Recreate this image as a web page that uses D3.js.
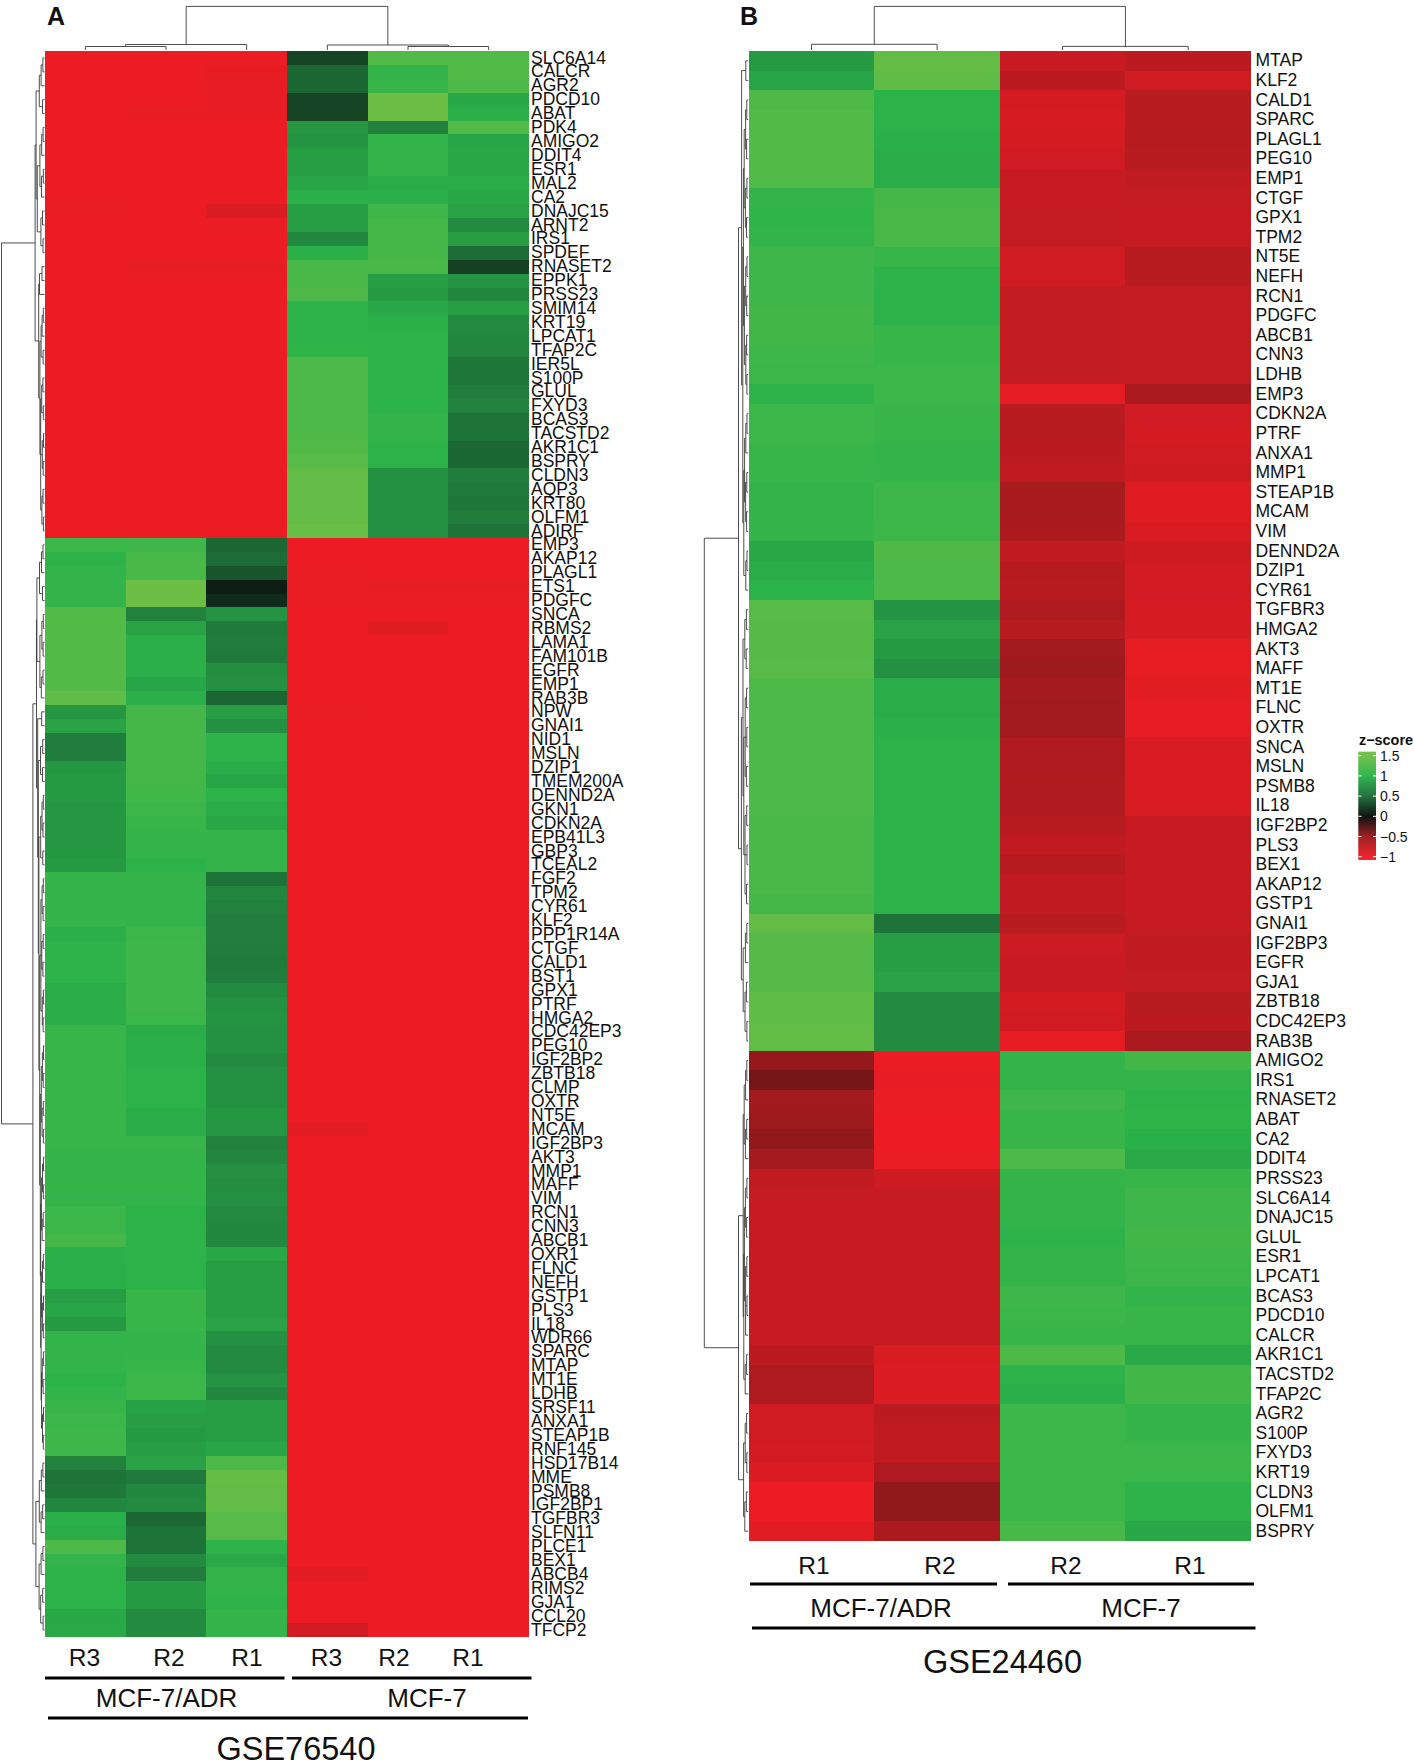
<!DOCTYPE html>
<html>
<head>
<meta charset="utf-8">
<script src="https://cdnjs.cloudflare.com/ajax/libs/d3/7.8.5/d3.min.js"></script>
<style>
  html, body { margin: 0; padding: 0; background: #fff; }
  svg { display: block; }
  text { font-family: "Liberation Sans", Arial, sans-serif; fill: #111; }
</style>
</head>
<body>
<svg id="chart" width="1414" height="1760"></svg>
<script>
// ── Data ───────────────────────────────────────────────────────────────────

const aColumns = ['R3', 'R2', 'R1', 'R3 ', 'R2 ', 'R1 '];
const bColumns = ['R1', 'R2', 'R2 ', 'R1 '];

const aTopGenes = ['SLC6A14','CALCR','AGR2','PDCD10','ABAT','PDK4','AMIGO2','DDIT4','ESR1','MAL2','CA2','DNAJC15','ARNT2','IRS1','SPDEF','RNASET2','EPPK1','PRSS23','SMIM14','KRT19','LPCAT1','TFAP2C','IER5L','S100P','GLUL','FXYD3','BCAS3','TACSTD2','AKR1C1','BSPRY','CLDN3','AQP3','KRT80','OLFM1','ADIRF'];
const aTopValues = [
  [-1,-1,-0.99,0.3,1.3,1.3],[-1,-1,-0.96,0.48,1.05,1.3],[-1,-1,-0.97,0.48,1.1,1.25],[-1,-1,-0.97,0.3,1.5,0.92],[-1,-0.97,-0.97,0.3,1.5,0.97],
  [-1,-1,-1,0.8,0.65,1.3],[-1,-1,-1,0.78,1.05,0.9],[-1,-1,-1,0.85,1.05,0.92],[-1,-1,-1,0.85,1.05,0.92],[-1,-1,-1,0.9,0.95,0.95],
  [-1,-1,-1,0.97,0.97,0.92],[-0.98,-1,-0.9,0.85,1.15,0.88],[-1,-1,-0.99,0.85,1.2,0.72],[-1,-1,-1,0.7,1.2,0.85],[-1,-1,-1,0.97,1.2,0.5],
  [-1,-0.97,-0.97,1.22,1.22,0.28],[-1,-1,-1,1.22,0.85,0.78],[-1,-1,-1,1.25,0.82,0.7],[-1,-1,-1,1.02,0.92,0.85],[-1,-1,-1,1.02,0.98,0.72],
  [-1,-1,-1,1.02,1,0.7],[-1,-1,-1,1.03,1,0.68],[-1,-1,-1,1.25,1,0.58],[-1,-1,-1,1.25,1.02,0.58],[-1,-1,-1,1.25,1,0.62],
  [-1,-1,-1,1.25,1,0.66],[-1,-1,-1,1.25,1.05,0.55],[-1,-1,-1,1.28,1.05,0.55],[-1,-1,-1,1.3,1.02,0.48],[-1,-1,-1,1.35,1,0.48],
  [-1,-1,-1,1.42,0.75,0.62],[-1,-1,-1,1.42,0.75,0.6],[-1,-1,-1,1.42,0.75,0.58],[-1,-1,-1,1.42,0.75,0.62],[-1,-1,-1,1.48,0.75,0.55]
];

const aLowGenes = ['EMP3','AKAP12','PLAGL1','ETS1','PDGFC','SNCA','RBMS2','LAMA1','FAM101B','EGFR','EMP1','RAB3B','NPW','GNAI1','NID1','MSLN','DZIP1','TMEM200A','DENND2A','GKN1','CDKN2A','EPB41L3','GBP3','TCEAL2','FGF2','TPM2','CYR61','KLF2','PPP1R14A','CTGF','CALD1','BST1','GPX1','PTRF','HMGA2','CDC42EP3','PEG10','IGF2BP2','ZBTB18','CLMP','OXTR','NT5E','MCAM','IGF2BP3','AKT3','MMP1','MAFF','VIM','RCN1','CNN3','ABCB1','OXR1','FLNC','NEFH','GSTP1','PLS3','IL18','WDR66','SPARC','MTAP','MT1E','LDHB','SRSF11','ANXA1','STEAP1B','RNF145','HSD17B14','MME','PSMB8','IGF2BP1','TGFBR3','SLFN11','PLCE1','BEX1','ABCB4','RIMS2','GJA1','CCL20','TFCP2'];
const aLowValues = [
  [1.12,1.15,0.48,-1,-1,-1],[1.02,1.22,0.5,-1,-1,-1],[1.05,1.22,0.38,-0.98,-1,-1],[1.05,1.5,0.1,-0.98,-0.97,-0.97],[1.05,1.5,0.17,-0.98,-0.98,-0.98],
  [1.3,0.65,0.78,-1,-1,-1],[1.3,0.88,0.6,-1,-0.92,-1],[1.3,0.97,0.62,-1,-1,-1],[1.3,0.97,0.6,-1,-1,-1],[1.3,0.97,0.73,-1,-1,-1],
  [1.3,0.9,0.75,-1,-1,-1],[1.4,0.97,0.47,-0.99,-1,-1],[0.8,1.2,0.85,-0.98,-1,-1],[0.88,1.2,0.75,-1,-1,-1],[0.62,1.2,1.02,-1,-1,-1],
  [0.62,1.2,1.02,-1,-1,-1],[0.8,1.2,0.95,-1,-1,-1],[0.82,1.2,0.9,-1,-1,-1],[0.82,1.17,1,-1,-1,-1],[0.8,1.13,0.95,-1,-1,-1],
  [0.8,1.1,0.92,-1,-1,-1],[0.8,1.08,1.05,-1,-1,-1],[0.8,1.05,1.05,-1,-1,-1],[0.82,1,1.05,-1,-1,-1],[1.08,1.08,0.55,-1,-1,-1],
  [1.08,1.05,0.68,-1,-1,-1],[1.08,1.05,0.65,-1,-1,-1],[1.08,1.05,0.63,-1,-1,-1],[0.97,1.13,0.63,-1,-1,-1],[1.02,1.15,0.62,-1,-1,-1],
  [1.02,1.15,0.6,-1,-1,-1],[1.02,1.15,0.62,-1,-1,-1],[0.95,1.15,0.72,-1,-1,-1],[0.95,1.15,0.75,-1,-1,-1],[0.95,1.12,0.78,-1,-1,-1],
  [1.1,0.95,0.75,-1,-1,-1],[1.1,0.97,0.75,-1,-1,-1],[1.1,0.98,0.72,-1,-1,-1],[1.1,1,0.75,-1,-1,-1],[1.1,1,0.75,-1,-1,-1],
  [1.1,1,0.75,-1,-1,-1],[1.1,0.95,0.8,-1,-1,-1],[1.1,0.95,0.8,-0.94,-1,-1],[1.1,1.1,0.65,-1,-1,-1],[1.08,1.08,0.68,-1,-1,-1],
  [1.08,1.06,0.75,-1,-1,-1],[1.06,1.06,0.73,-1,-1,-1],[1.05,1.05,0.75,-1,-1,-1],[1.12,1,0.72,-1,-1,-1],[1.12,1,0.7,-1,-1,-1],
  [1.2,1.02,0.7,-1,-1,-1],[0.98,1.02,0.92,-1,-1,-1],[0.97,1,0.85,-1,-1,-1],[0.97,1,0.85,-1,-1,-1],[0.85,1.1,0.85,-1,-1,-1],
  [0.9,1.1,0.85,-1,-1,-1],[0.82,1.1,0.88,-1,-1,-1],[1.05,1.08,0.75,-1,-1,-1],[1.05,1.08,0.72,-1,-1,-1],[1.05,1.1,0.72,-1,-1,-1],
  [1,1.12,0.78,-1,-1,-1],[1.05,1.12,0.7,-1,-1,-1],[1.1,0.87,0.85,-1,-1,-1],[1.12,0.85,0.85,-1,-1,-1],[1.15,0.82,0.85,-1,-1,-1],
  [1.15,0.85,0.9,-1,-1,-1],[0.65,0.88,1.25,-1,-1,-1],[0.55,0.6,1.45,-1,-1,-1],[0.58,0.7,1.42,-1,-1,-1],[0.7,0.72,1.42,-1,-1,-1],
  [0.98,0.48,1.35,-1,-1,-1],[0.95,0.55,1.35,-1,-1,-1],[1.25,0.55,1.02,-1,-1,-1],[1.05,0.72,0.92,-1,-1,-1],[1.02,0.62,1.05,-0.94,-1,-1],
  [1,0.82,1.05,-1,-1,-1],[1,0.82,1.02,-1,-1,-1],[0.92,0.72,1.08,-1,-1,-1],[0.93,0.72,1.08,-0.82,-1,-1]
];

const bTopGenes = ['MTAP','KLF2','CALD1','SPARC','PLAGL1','PEG10','EMP1','CTGF','GPX1','TPM2','NT5E','NEFH','RCN1','PDGFC','ABCB1','CNN3','LDHB','EMP3','CDKN2A','PTRF','ANXA1','MMP1','STEAP1B','MCAM','VIM','DENND2A','DZIP1','CYR61','TGFBR3','HMGA2','AKT3','MAFF','MT1E','FLNC','OXTR','SNCA','MSLN','PSMB8','IL18','IGF2BP2','PLS3','BEX1','AKAP12','GSTP1','GNAI1','IGF2BP3','EGFR','GJA1','ZBTB18','CDC42EP3','RAB3B'];
const bTopValues = [
  [0.82,1.42,-0.78,-0.7],[0.9,1.4,-0.7,-0.82],[1.28,1,-0.85,-0.68],[1.3,1,-0.87,-0.68],[1.3,0.98,-0.85,-0.66],
  [1.3,0.95,-0.83,-0.68],[1.3,0.95,-0.76,-0.72],[1.05,1.2,-0.76,-0.75],[1.03,1.22,-0.75,-0.76],[1.05,1.22,-0.75,-0.76],
  [1.15,1.1,-0.82,-0.68],[1.15,1.02,-0.82,-0.68],[1.15,1,-0.74,-0.75],[1.18,1,-0.74,-0.75],[1.18,1.1,-0.74,-0.75],
  [1.15,1.1,-0.74,-0.75],[1.12,1.12,-0.74,-0.75],[1.02,1.12,-0.95,-0.6],[1.12,1.1,-0.68,-0.83],[1.12,1.1,-0.68,-0.85],
  [1.1,1.05,-0.7,-0.82],[1.1,1.08,-0.72,-0.8],[1.05,1.13,-0.58,-0.92],[1.05,1.13,-0.58,-0.92],[1.08,1.13,-0.6,-0.88],
  [0.92,1.28,-0.72,-0.8],[0.95,1.25,-0.66,-0.84],[1,1.25,-0.68,-0.84],[1.35,0.78,-0.62,-0.86],[1.32,0.88,-0.66,-0.86],
  [1.32,0.82,-0.55,-0.96],[1.35,0.75,-0.52,-0.96],[1.25,0.95,-0.56,-0.93],[1.25,0.96,-0.54,-0.95],[1.25,0.98,-0.54,-0.95],
  [1.25,1,-0.62,-0.88],[1.25,1,-0.62,-0.88],[1.25,1,-0.63,-0.88],[1.25,1,-0.64,-0.88],[1.22,1,-0.68,-0.78],
  [1.22,1,-0.72,-0.78],[1.22,1,-0.66,-0.78],[1.22,1,-0.72,-0.78],[1.2,1,-0.72,-0.77],[1.42,0.55,-0.68,-0.76],
  [1.32,0.85,-0.8,-0.72],[1.32,0.85,-0.78,-0.72],[1.32,0.88,-0.78,-0.74],[1.4,0.72,-0.85,-0.68],[1.4,0.72,-0.82,-0.7],
  [1.42,0.72,-0.95,-0.6]
];

const bLowGenes = ['AMIGO2','IRS1','RNASET2','ABAT','CA2','DDIT4','PRSS23','SLC6A14','DNAJC15','GLUL','ESR1','LPCAT1','BCAS3','PDCD10','CALCR','AKR1C1','TACSTD2','TFAP2C','AGR2','S100P','FXYD3','KRT19','CLDN3','OLFM1','BSPRY'];
const bLowValues = [
  [-0.48,-1,1.05,1.18],[-0.38,-0.97,1.05,1.05],[-0.55,-0.98,1.15,1.02],[-0.52,-1,1.1,1.03],[-0.47,-1,1.1,0.98],
  [-0.56,-0.98,1.25,0.93],[-0.72,-0.8,1.08,1.1],[-0.76,-0.76,1.05,1.15],[-0.76,-0.76,1.05,1.15],[-0.76,-0.76,1.02,1.18],
  [-0.76,-0.76,1.05,1.15],[-0.76,-0.76,1.05,1.13],[-0.76,-0.76,1.15,1.05],[-0.76,-0.76,1.12,1.1],[-0.76,-0.76,1.1,1.1],
  [-0.7,-0.88,1.25,0.93],[-0.62,-0.9,1.02,1.18],[-0.62,-0.9,0.97,1.18],[-0.83,-0.7,1.13,1.05],[-0.83,-0.72,1.12,1.08],
  [-0.84,-0.72,1.12,1.12],[-0.9,-0.62,1.12,1.12],[-1,-0.47,1.12,1.02],[-1,-0.47,1.12,1.02],[-0.93,-0.6,1.22,0.92]
];

// Dendrograms: [height, ...children]; a bare number child = that many leaves
const aColTree = [43.6, [5.5, [3.5, 2], 1], [5, 1, [3.5, 2]]];
const bColTree = [43.6, [5.7, 2], [3.6, 2]];

const aRowTreeTop = [9.4,
  [8.4,
    [5.2, [3.4, [1.6, 2], 1], [2, 2]],
    [7.2,
      [4.6, [2.8, [1.4, 2], 1], [3, [1.2, 2], 1]],
      [3.6, [2, 2], [1.5, 2]]]],
  [5.8,
    [5, [2.5, 2], 1],
    [4.6,
      [3.4, [2.4, [1.2, 2], 1], [1.4, 2]],
      [3.8, [2.8, [1.6, 2], [1.2, 2]], [2.2, [1, 2], [1.3, 2]], [2.6, [1.5, 2], [1.1, 2]]]]]
];
const aRowTreeLow = [11.6,
  [8,
    [7.6,
      [5, [3, [1.5, 2], 1], [2, 2]],
      [4.6, [2.6, [1.2, 2], [1.4, 2]], [3.2, [1.5, 2], 1]]],
    [6.8,
      [2.8, 2],
      [6.2,
        [4, [1.8, 2], [2, 2]],
        [5.6,
          [3.8, [2.5, [1.2, 2], [1.5, 2]], [1.7, 2]],
          [4.8,
            [3.6, [2.4, [1.2, 2], [1.4, 2]], [2.7, [1.3, 2], [1.6, 2]], [2.2, [1.1, 2], [1.4, 2]]],
            [4.2,
              [3.2, [2.1, [1, 2], [1.3, 2]], [2.4, [1.2, 2], [1.1, 2]]],
              [3.8,
                [3.1, [2, [1, 2], [1.2, 2]], [2.3, [1.3, 2], 1]],
                [3.4,
                  [2.9, [2, [1.1, 2], 1], [1.9, [1, 2], [1.2, 2]]],
                  [3, [2.2, [1.1, 2], [1.4, 2]], [2, [1, 2], [1.2, 2]]]]]]]]]]],
  [8.6,
    [5.2, [3.2, [1.6, 2], 1], [3.4, [1.8, 2], 1]],
    [5.4, [3.4, [1.6, 2], 1], [3.8, [1.8, 2], [1.4, 2]]]]
];
const aRowTree = [43, aRowTreeTop, aRowTreeLow];

const bRowTreeTop = [9.7,
  [6.6,
    [2.4, 2],
    [5.4,
      [4.8,
        [4, [2.6, [1.4, 2], [1.6, 2]], [2.8, [1.3, 2], [1.7, 2]]],
        [3.8, [2.5, [1.2, 2], [1.5, 2]], [2.4, [1.6, 2], [1.3, 2]]]],
      [4.4,
        [3.6, [2.4, [1.2, 2], 1], [2.6, [1.4, 2], [1.6, 2]]],
        [2.4, [1.2, 2], 1]]]],
  [6.8,
    [5.2,
      [3.4, [1.8, 2], [2, 2]],
      [4.4, [3, [1.6, 2], [1.4, 2], [1.8, 2]], [3.2, [1.5, 2], [1.2, 2], [1.7, 2]]]],
    [5, [2.8, [1.4, 2], 1], [3.2, [1.8, 2], [1.3, 2]]]]
];
const bRowTreeLow = [9.7,
  [5,
    [4, [2.6, [1.4, 2], 1], [2.8, [1.5, 2], 1]],
    [4.4,
      [3.8, [2.8, [1.3, 2], [1.6, 2]], [2.6, [1.4, 2], [1.2, 2], 1]],
      [3, [1.6, 2], 1]]],
  [4.6, [3, [1.6, 2], [1.4, 2]], [3.4, [1.8, 2], 1]]
];
const bRowTree = [43.9, bRowTreeTop, bRowTreeLow];

const legendTicks = [1.5, 1, 0.5, 0, -0.5, -1];
const colorStops = [-1, -0.5, 0, 0.5, 1, 1.5];
const colorRange = ['#ed1c24', '#9a1a1d', '#0a0a0a', '#1d6c37', '#2bb34a', '#6cbe45'];

// ── Shared bits ────────────────────────────────────────────────────────────

const svg = d3.select('#chart');
const color = d3.scaleLinear().domain(colorStops).range(colorRange).clamp(true);

// walks a dendrogram, returns {pos, h, next}; every bracket is drawn on the way
function drawTree(g, node, leafPos, start, place) {
  let next = start;
  const kids = [];
  node.slice(1).forEach(c => {
    if (typeof c === 'number') {
      for (let i = 0; i < c; i++) kids.push({ pos: leafPos(next++), h: 0 });
    } else {
      const r = drawTree(g, c, leafPos, next, place);
      next = r.next;
      kids.push(r);
    }
  });
  const h = node[0];
  const first = kids[0].pos, last = kids[kids.length - 1].pos;
  const p = d3.path();
  kids.forEach(k => { p.moveTo(...place(k.h, k.pos)); p.lineTo(...place(h, k.pos)); });
  p.moveTo(...place(h, first)); p.lineTo(...place(h, last));
  g.append('path').attr('d', p.toString())
    .attr('fill', 'none').attr('stroke', '#3a3a3a').attr('stroke-width', 0.9);
  return { pos: (first + last) / 2, h, next };
}

function drawPanel(o) {
  const genes = o.topGenes.concat(o.lowGenes);
  const values = o.topValues.concat(o.lowValues);
  const x = d3.scaleBand().domain(o.columns).range([o.left, o.right]);
  const y = d3.scaleBand().domain(genes).range([o.top, o.bottom]);
  const g = svg.append('g');

  // cells
  genes.forEach((gene, r) => {
    o.columns.forEach((col, c) => {
      g.append('rect')
        .attr('x', x(col)).attr('y', y(gene))
        .attr('width', x.bandwidth()).attr('height', y.bandwidth())
        .attr('fill', color(values[r][c]))
        .attr('shape-rendering', 'crispEdges');
    });
  });

  // gene labels
  const axis = g.append('g')
    .attr('transform', `translate(${o.labelX},0)`)
    .call(d3.axisRight(y).tickSize(0).tickPadding(0));
  axis.select('.domain').remove();
  axis.selectAll('text').attr('font-size', 17.5)
    .style('font-family', '"Liberation Sans", Arial, sans-serif').attr('fill', '#111');

  // dendrograms
  const colH = d3.scaleLinear().domain([0, 43.6]).range([o.top - 1, 6.4]);
  const rowH = d3.scaleLinear().domain([0, 40]).range([o.left - 0.5, o.left - 40.5]);
  drawTree(g.append('g'), o.colTree, i => x(o.columns[i]) + x.bandwidth() / 2, 0, (h, p) => [p, colH(h)]);
  drawTree(g.append('g'), o.rowTree, i => y(genes[i]) + y.bandwidth() / 2, 0, (h, p) => [rowH(h), p]);

  // panel letter
  g.append('text').attr('x', o.letterX).attr('y', 24.5)
    .attr('font-size', 25).attr('font-weight', 700).attr('fill', '#000').text(o.letter);

  // replicate labels + group rules below the map
  o.columns.forEach((col, c) => {
    g.append('text').attr('x', o.repX[c]).attr('y', o.repY).attr('text-anchor', 'middle')
      .attr('font-size', 24.5).text(col.trim());
  });
  o.rules.forEach(r => {
    g.append('line').attr('x1', r[0]).attr('x2', r[1]).attr('y1', r[2]).attr('y2', r[2])
      .attr('stroke', '#000').attr('stroke-width', 3);
  });
  o.groups.forEach(t => {
    g.append('text').attr('x', t[1]).attr('y', o.groupY).attr('text-anchor', 'middle')
      .attr('font-size', 26).text(t[0]);
  });
  g.append('text').attr('x', o.titleX).attr('y', o.titleY).attr('text-anchor', 'middle')
    .attr('font-size', 32.5).text(o.title);
}

// ── Panels ─────────────────────────────────────────────────────────────────

drawPanel({
  letter: 'A', letterX: 47, title: 'GSE76540', titleX: 296, titleY: 1760,
  columns: aColumns, topGenes: aTopGenes, lowGenes: aLowGenes, topValues: aTopValues, lowValues: aLowValues,
  colTree: aColTree, rowTree: aRowTree,
  left: 45, right: 529, top: 51, bottom: 1637, labelX: 531,
  repX: [84.5, 169, 247, 326.5, 394, 468], repY: 1665.5,
  rules: [[45, 284.5, 1678], [292, 531.5, 1678], [48, 528, 1718]],
  groups: [['MCF-7/ADR', 166.5], ['MCF-7', 427]], groupY: 1707
});

drawPanel({
  letter: 'B', letterX: 740, title: 'GSE24460', titleX: 1002.5, titleY: 1672.5,
  columns: bColumns, topGenes: bTopGenes, lowGenes: bLowGenes, topValues: bTopValues, lowValues: bLowValues,
  colTree: bColTree, rowTree: bRowTree,
  left: 748.7, right: 1251, top: 51, bottom: 1541, labelX: 1255.5,
  repX: [814, 940, 1066, 1190], repY: 1573.5,
  rules: [[750, 997, 1584], [1008, 1254, 1584], [752, 1255.5, 1628]],
  groups: [['MCF-7/ADR', 881], ['MCF-7', 1141]], groupY: 1616.5
});

// ── Colour key ─────────────────────────────────────────────────────────────

const keyY = d3.scaleLinear().domain([-1, 1.5]).range([856.7, 755.7]);
const key = svg.append('g');
d3.range(-1.07, 1.6, 0.01).forEach(v => {
  key.append('rect').attr('x', 1358.5).attr('y', keyY(v + 0.01)).attr('width', 17.5)
    .attr('height', keyY(v) - keyY(v + 0.01) + 0.4).attr('fill', color(v));
});
legendTicks.forEach(t => {
  key.append('line').attr('x1', 1358.5).attr('x2', 1361.5).attr('y1', keyY(t)).attr('y2', keyY(t))
    .attr('stroke', '#fff').attr('stroke-width', 1);
  key.append('line').attr('x1', 1373).attr('x2', 1376).attr('y1', keyY(t)).attr('y2', keyY(t))
    .attr('stroke', '#fff').attr('stroke-width', 1);
  key.append('text').attr('x', 1380).attr('y', keyY(t)).attr('dy', '0.36em')
    .attr('font-size', 14).text(String(t).replace('-', '\u2212'));
});
key.append('text').attr('x', 1359).attr('y', 745).attr('font-size', 14.4).attr('font-weight', 700)
  .text('z\u2212score');
</script>
</body>
</html>
